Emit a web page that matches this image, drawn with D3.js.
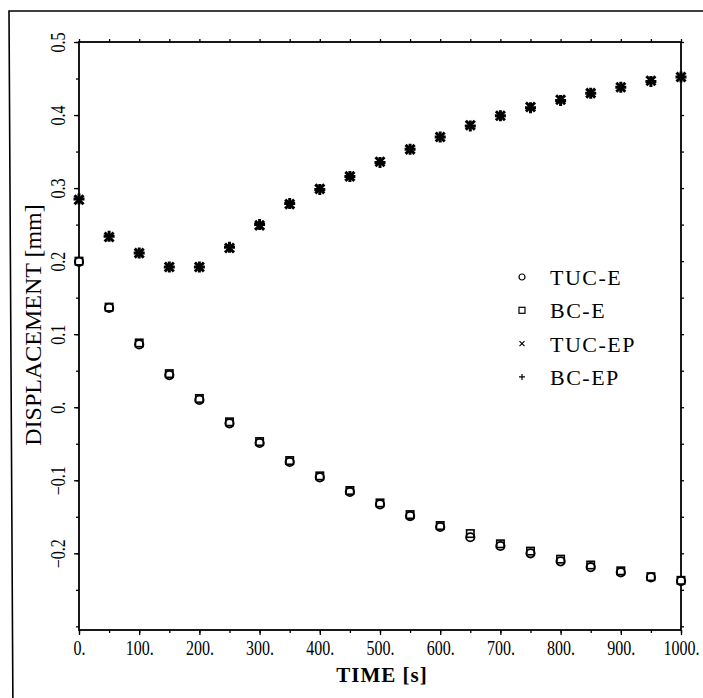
<!DOCTYPE html>
<html lang="en">
<head>
    <meta charset="utf-8" />
    <title>Displacement vs time</title>
    <script src="https://cdnjs.cloudflare.com/ajax/libs/d3/7.8.5/d3.min.js"></script>
    <style>
        body { margin: 0; background: white; }
        svg { display: block; }
        text { font-family: "Liberation Serif", "DejaVu Serif", serif; fill: black; }
    </style>
</head>
<body>
<script>
    // Data
    const time = [0, 50, 100, 150, 200, 250, 300, 350, 400, 450, 500, 550, 600, 650, 700, 750, 800, 850, 900, 950, 1000];
    const tucE = [0.199, 0.136, 0.086, 0.044, 0.010, -0.022, -0.049, -0.075, -0.096, -0.116, -0.133, -0.149, -0.164, -0.178, -0.190, -0.200, -0.211, -0.219, -0.226, -0.233, -0.238];
    const bcE = [0.200, 0.137, 0.088, 0.046, 0.012, -0.020, -0.047, -0.073, -0.094, -0.114, -0.131, -0.147, -0.162, -0.173, -0.187, -0.197, -0.208, -0.216, -0.224, -0.232, -0.237];
    const tucEP = [0.284, 0.233, 0.211, 0.192, 0.192, 0.218, 0.249, 0.278, 0.299, 0.316, 0.336, 0.353, 0.370, 0.386, 0.399, 0.411, 0.421, 0.430, 0.438, 0.447, 0.452];
    const bcEP = [0.285, 0.234, 0.211, 0.192, 0.192, 0.219, 0.250, 0.279, 0.298, 0.316, 0.335, 0.353, 0.370, 0.385, 0.399, 0.410, 0.420, 0.430, 0.438, 0.446, 0.452];

    const xTicks = [0, 100, 200, 300, 400, 500, 600, 700, 800, 900, 1000];
    const xTickLabels = ["0.", "100.", "200.", "300.", "400.", "500.", "600.", "700.", "800.", "900.", "1000."];
    const yTicks = [-0.2, -0.1, 0, 0.1, 0.2, 0.3, 0.4, 0.5];
    const yTickLabels = ["\u22120.2", "\u22120.1", "0.", "0.1", "0.2", "0.3", "0.4", "0.5"];
    const seriesNames = ["TUC-E", "BC-E", "TUC-EP", "BC-EP"];

    const W = 703, H = 698;
    const plot = { left: 79, right: 681, top: 42, bottom: 630 };

    const svg = d3.select("body").append("svg")
        .attr("width", W)
        .attr("height", H);

    // outer frame of the scanned figure (slightly skewed)
    svg.append("path")
        .attr("d", "M13,720 L9,11 L720,11")
        .attr("fill", "none")
        .attr("stroke", "black")
        .attr("stroke-width", 1.6);

    const xscale = d3.scaleLinear().domain([0, 1000]).range([plot.left, plot.right]);
    const yscale = d3.scaleLinear().domain([-0.305, 0.5]).range([plot.bottom, plot.top]);

    const minorX = d3.range(0, 1001, 50);
    const minorY = d3.range(-6, 11).map(i => i * 0.05);

    // minor ticks, all four sides
    svg.append("g").attr("transform", `translate(0,${plot.bottom})`)
        .call(d3.axisBottom(xscale).tickValues(minorX).tickSize(3).tickFormat(""));
    svg.append("g").attr("transform", `translate(0,${plot.top})`)
        .call(d3.axisTop(xscale).tickValues(minorX).tickSize(3).tickFormat(""));
    svg.append("g").attr("transform", `translate(${plot.left},0)`)
        .call(d3.axisLeft(yscale).tickValues(minorY).tickSize(3).tickFormat(""));
    svg.append("g").attr("transform", `translate(${plot.right},0)`)
        .call(d3.axisRight(yscale).tickValues(minorY).tickSize(3).tickFormat(""));

    // major ticks with labels
    const gx = svg.append("g").attr("class", "x axis")
        .attr("transform", `translate(0,${plot.bottom})`)
        .call(d3.axisBottom(xscale).tickValues(xTicks).tickSize(5)
            .tickFormat((d, i) => xTickLabels[i]));
    gx.selectAll("text")
        .attr("y", 25).attr("dy", 0)
        .attr("transform", "scale(0.8,1)")
        .style("font-size", "20px")
        .style("font-family", "'Liberation Serif', serif");

    const gy = svg.append("g").attr("class", "y axis")
        .attr("transform", `translate(${plot.left},0)`)
        .call(d3.axisLeft(yscale).tickValues(yTicks).tickSize(5)
            .tickFormat((d, i) => yTickLabels[i]));
    gy.selectAll("text")
        .attr("x", 0).attr("y", 0).attr("dy", 0)
        .attr("text-anchor", "middle")
        .attr("transform", "translate(-14,0) rotate(-90) scale(0.8,1)")
        .style("font-size", "20px")
        .style("font-family", "'Liberation Serif', serif");

    svg.selectAll(".domain").remove();
    svg.selectAll(".tick line").attr("stroke", "black").attr("stroke-width", 1.3);

    // plot box
    svg.append("rect")
        .attr("x", plot.left).attr("y", plot.top)
        .attr("width", plot.right - plot.left)
        .attr("height", plot.bottom - plot.top)
        .attr("fill", "none")
        .attr("stroke", "black")
        .attr("stroke-width", 1.8);

    // axis titles
    svg.append("text")
        .attr("x", (plot.left + plot.right) / 2 + 2)
        .attr("y", 682)
        .attr("text-anchor", "middle")
        .style("font-size", "21px")
        .style("font-weight", "bold")
        .style("letter-spacing", "1px")
        .text("TIME [s]");

    svg.append("text")
        .attr("transform", "translate(41,325) rotate(-90)")
        .attr("text-anchor", "middle")
        .style("font-size", "24px")
        .text("DISPLACEMENT [mm]");

    // marker painters
    const mark = {
        circle: (sel, r, w) => sel.append("circle").attr("r", r)
            .attr("fill", "white").attr("stroke", "black").attr("stroke-width", w),
        square: (sel, s, w) => sel.append("rect").attr("x", -s).attr("y", -s)
            .attr("width", 2 * s).attr("height", 2 * s)
            .attr("fill", "none").attr("stroke", "black").attr("stroke-width", w),
        times: (sel, s, w) => sel.append("path")
            .attr("d", `M${-s},${-s}L${s},${s}M${-s},${s}L${s},${-s}`)
            .attr("stroke", "black").attr("stroke-width", w),
        plus: (sel, s, w) => sel.append("path")
            .attr("d", `M${-s},0L${s},0M0,${-s}L0,${s}`)
            .attr("stroke", "black").attr("stroke-width", w)
    };

    const series = [
        { name: seriesNames[0], values: tucE, draw: g => mark.circle(g, 4.2, 1.8) },
        { name: seriesNames[1], values: bcE, draw: g => mark.square(g, 3.7, 1.6) },
        { name: seriesNames[2], values: tucEP, draw: g => mark.times(g, 4.5, 3) },
        { name: seriesNames[3], values: bcEP, draw: g => mark.plus(g, 5.5, 3) }
    ];

    series.forEach(s => {
        svg.append("g").attr("class", "series")
            .selectAll("g")
            .data(time.map((t, i) => ({ t: t, v: s.values[i] })))
            .join("g")
            .attr("transform", d => `translate(${xscale(d.t)},${yscale(d.v)})`)
            .each(function () { s.draw(d3.select(this)); });
    });

    // legend
    const legendSym = [
        g => mark.circle(g, 3, 1.2),
        g => mark.square(g, 3, 1.2),
        g => mark.times(g, 2.5, 1.2),
        g => mark.plus(g, 3, 1.2)
    ];
    const legend = svg.append("g").attr("class", "legend")
        .attr("transform", "translate(522,277)");
    seriesNames.forEach((name, i) => {
        const row = legend.append("g").attr("transform", `translate(0,${i * 33.3})`);
        legendSym[i](row);
        row.append("text")
            .attr("x", 28)
            .attr("y", 8)
            .style("font-size", "22px")
            .style("letter-spacing", "1.5px")
            .text(name);
    });
</script>
</body>
</html>
